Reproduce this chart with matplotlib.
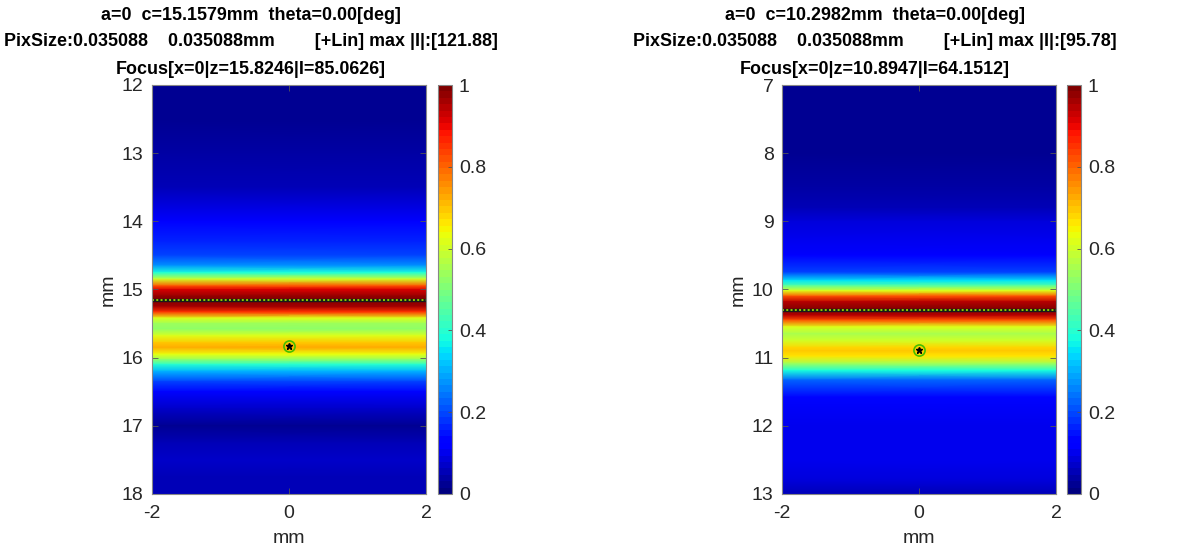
import numpy as np
import matplotlib
matplotlib.use("Agg")
import matplotlib.pyplot as plt

plt.rcParams['font.family'] = ['Liberation Sans', 'DejaVu Sans']
plt.rcParams['axes.unicode_minus'] = False

# x range of each image (mm)
x_edges = [-2.0, 2.0]

# left panel: normalised intensity along depth z (mm)
z_left = [12.0, 12.5, 13.0, 13.5, 14.0, 14.3, 14.5, 14.65, 14.75, 14.85, 14.95, 15.0,
          15.1, 15.16, 15.25, 15.33, 15.42, 15.5, 15.58, 15.68, 15.78, 15.85, 15.95,
          16.03, 16.1, 16.2, 16.35, 16.5, 16.75, 17.0, 17.25, 17.5, 17.75, 18.0]
I_left = [0.03, 0.03, 0.04, 0.06, 0.12, 0.16, 0.2, 0.27, 0.38, 0.6, 0.82, 0.92,
          0.98, 1.0, 0.96, 0.85, 0.62, 0.54, 0.52, 0.62, 0.7, 0.72, 0.64,
          0.52, 0.4, 0.3, 0.2, 0.13, 0.07, 0.02, 0.05, 0.07, 0.06, 0.05]

# right panel
z_right = [7.0, 7.5, 8.0, 8.5, 8.8, 9.0, 9.25, 9.5, 9.75, 9.87, 9.94, 10.02, 10.1,
           10.18, 10.29, 10.38, 10.45, 10.55, 10.65, 10.75, 10.85, 10.9, 10.98,
           11.08, 11.19, 11.33, 11.58, 12.0, 12.5, 12.8, 13.0]
I_right = [0.03, 0.03, 0.03, 0.04, 0.05, 0.08, 0.1, 0.12, 0.2, 0.35, 0.45, 0.62, 0.82,
           0.94, 1.0, 0.95, 0.82, 0.62, 0.56, 0.6, 0.68, 0.7, 0.66,
           0.56, 0.38, 0.22, 0.13, 0.1, 0.1, 0.08, 0.05]

titles = [
    ["a=0  c=15.1579mm  theta=0.00[deg]",
     "PixSize:0.035088    0.035088mm        [+Lin] max |I|:[121.88]",
     "Focus[x=0|z=15.8246|I=85.0626]"],
    ["a=0  c=10.2982mm  theta=0.00[deg]",
     "PixSize:0.035088    0.035088mm        [+Lin] max |I|:[95.78]",
     "Focus[x=0|z=10.8947|I=64.1512]"],
]
c_depth = [15.1579, 10.2982]
focus_z = [15.8246, 10.8947]
z_ranges = [(12, 18), (7, 13)]

W, H = 1203, 554
fig = plt.figure(figsize=(W / 100, H / 100), dpi=100)
cmap = plt.get_cmap('jet', 64)
txt = '#262626'

panels = [(z_left, I_left, 152, 438, 251), (z_right, I_right, 782, 1067, 875)]
for k, (zz, ii, ax_left, cb_left, title_x) in enumerate(panels):
    ax = fig.add_axes([ax_left / W, 1 - 494 / H, 274 / W, 409 / H])
    X, Z = np.meshgrid(x_edges, zz)
    C = np.repeat(np.array(ii)[:, None], len(x_edges), axis=1)
    ax.pcolormesh(X, Z, C, cmap=cmap, vmin=0, vmax=1, shading='gouraud')
    # line at c and the focus point
    ax.plot(x_edges, [c_depth[k]] * 2, color='#1a1a1a', lw=2.4)
    ax.plot(x_edges, [c_depth[k]] * 2, color='#8ad000', lw=1.4, ls=(0, (1, 1.2)))
    ax.plot(0, focus_z[k], 'o', ms=8, mfc='none', mec='#44c000', mew=1.2)
    ax.plot(0, focus_z[k], '*', ms=5, color='k')
    z0, z1 = z_ranges[k]
    ax.set_xlim(-2, 2)
    ax.set_ylim(z1, z0)
    ax.set_xticks([-2, 0, 2])
    ax.set_yticks(range(z0, z1 + 1))
    ax.tick_params(direction='in', length=4, width=0.6, colors='#555555',
                   labelcolor=txt, labelsize=14, top=True, right=True, pad=6)
    ax.tick_params(axis='x', pad=8)
    for s in ax.spines.values():
        s.set_color('#888888')
        s.set_linewidth(0.8)
    ax.set_xlabel('mm', fontsize=14, color=txt, labelpad=6)
    ax.set_ylabel('mm', fontsize=14, color=txt, labelpad=4)

    cax = fig.add_axes([cb_left / W, 1 - 494 / H, 14 / W, 409 / H])
    cb = fig.colorbar(plt.cm.ScalarMappable(norm=plt.Normalize(0, 1), cmap=cmap), cax=cax)
    cb.set_ticks([0, 0.2, 0.4, 0.6, 0.8, 1])
    cb.set_ticklabels(['0', '0.2', '0.4', '0.6', '0.8', '1'])
    cax.tick_params(direction='in', length=3, width=0.6, colors='#555555',
                    labelcolor=txt, labelsize=14, pad=5)
    cb.outline.set_edgecolor('#888888')
    cb.outline.set_linewidth(0.8)

    for j, line in enumerate(titles[k]):
        fig.text(title_x / W, 1 - (15 + 27 * j) / H, line, ha='center', va='center',
                 fontsize=12.9, fontweight='bold', color='k')

fig.savefig('out.png', dpi=100)
